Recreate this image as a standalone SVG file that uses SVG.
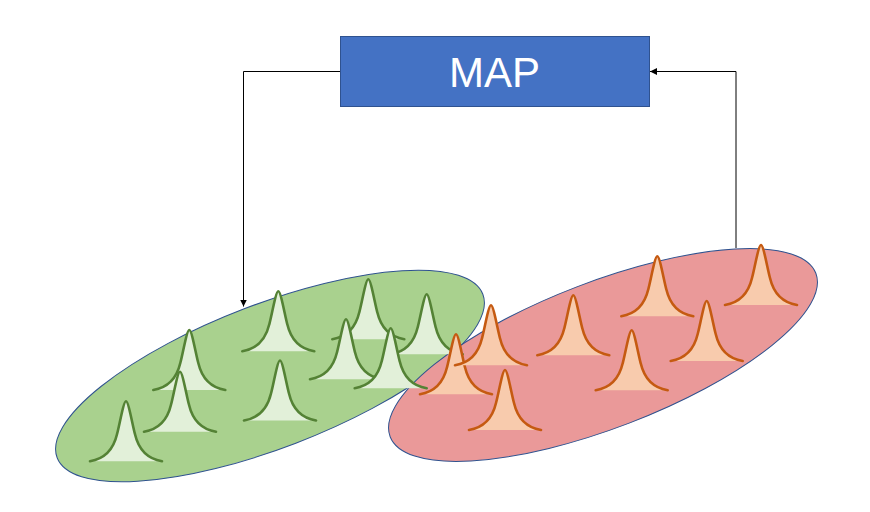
<svg xmlns="http://www.w3.org/2000/svg" xmlns:xlink="http://www.w3.org/1999/xlink" width="870" height="512" viewBox="0 0 870 512">
  <style>
    .cloud { stroke: #2F528F; stroke-width: 1; }
    .green { fill: #A9D18E; }
    .red { fill: #EA9999; }
    .gb { fill: #E2F0D9; stroke: #548235; stroke-width: 2.6; stroke-linecap: round; stroke-linejoin: round; }
    .ob { fill: #F8CBAD; stroke: #C55A11; stroke-width: 2.6; stroke-linecap: round; stroke-linejoin: round; }
    .link { fill: none; stroke: #000000; stroke-width: 1; }
    .label { fill: #FFFFFF; font-family: "Liberation Sans", Arial, sans-serif; font-size: 42px; text-anchor: middle; }
  </style>
  <defs>
    <!-- peaked bell curve, apex at origin, base 60px below -->
    <path id="bell" d="M-36,60 C-24,58 -13,50 -9,33 C-6.5,24 -2.5,0 0,0 C2.5,0 6.5,24 9,33 C13,50 24,58 36,60"/>
    <marker id="arrow" viewBox="0 0 10 10" refX="10" refY="5" markerWidth="7" markerHeight="7" markerUnits="userSpaceOnUse" orient="auto">
      <path d="M0,0 L10,5 L0,10 Z" fill="#000000"/>
    </marker>
  </defs>

  <!-- clusters -->
  <g id="cluster-green">
    <ellipse class="cloud green" cx="270" cy="376" rx="228" ry="72" transform="rotate(-21 270 376)"/>
  </g>
  <g id="cluster-red">
    <ellipse class="cloud red" cx="603" cy="355" rx="228" ry="73" transform="rotate(-21 603 355)"/>
  </g>

  <!-- green components -->
  <g id="components-green">
    <use xlink:href="#bell" class="gb" x="126" y="401.2"/>
    <use xlink:href="#bell" class="gb" x="189.3" y="330"/>
    <use xlink:href="#bell" class="gb" x="180" y="371.7"/>
    <use xlink:href="#bell" class="gb" x="278.3" y="291.3"/>
    <use xlink:href="#bell" class="gb" x="280" y="360.5"/>
    <use xlink:href="#bell" class="gb" x="368.3" y="279.3"/>
    <use xlink:href="#bell" class="gb" x="426.7" y="294.3"/>
    <use xlink:href="#bell" class="gb" x="346" y="319.3"/>
    <use xlink:href="#bell" class="gb" x="390.7" y="328.3"/>
  </g>

  <!-- orange components -->
  <g id="components-orange">
    <use xlink:href="#bell" class="ob" x="456" y="334.3"/>
    <use xlink:href="#bell" class="ob" x="491" y="305.3"/>
    <use xlink:href="#bell" class="ob" x="505" y="370"/>
    <use xlink:href="#bell" class="ob" x="573.3" y="295.3"/>
    <use xlink:href="#bell" class="ob" x="631.7" y="330.3"/>
    <use xlink:href="#bell" class="ob" x="657.3" y="256.3"/>
    <use xlink:href="#bell" class="ob" x="706.7" y="301"/>
    <use xlink:href="#bell" class="ob" x="761" y="245"/>
  </g>

  <!-- MAP box -->
  <g id="map">
    <rect x="340.5" y="36.5" width="309" height="70" fill="#4472C4" stroke="#2F528F" stroke-width="1"/>
    <text class="label" x="494.5" y="86.7">MAP</text>
  </g>

  <!-- connectors -->
  <g id="connectors">
    <path class="link" d="M340,71.5 H243.5 V306.5" marker-end="url(#arrow)"/>
    <path class="link" d="M736,248 V71.5 H650" marker-end="url(#arrow)"/>
  </g>
</svg>
